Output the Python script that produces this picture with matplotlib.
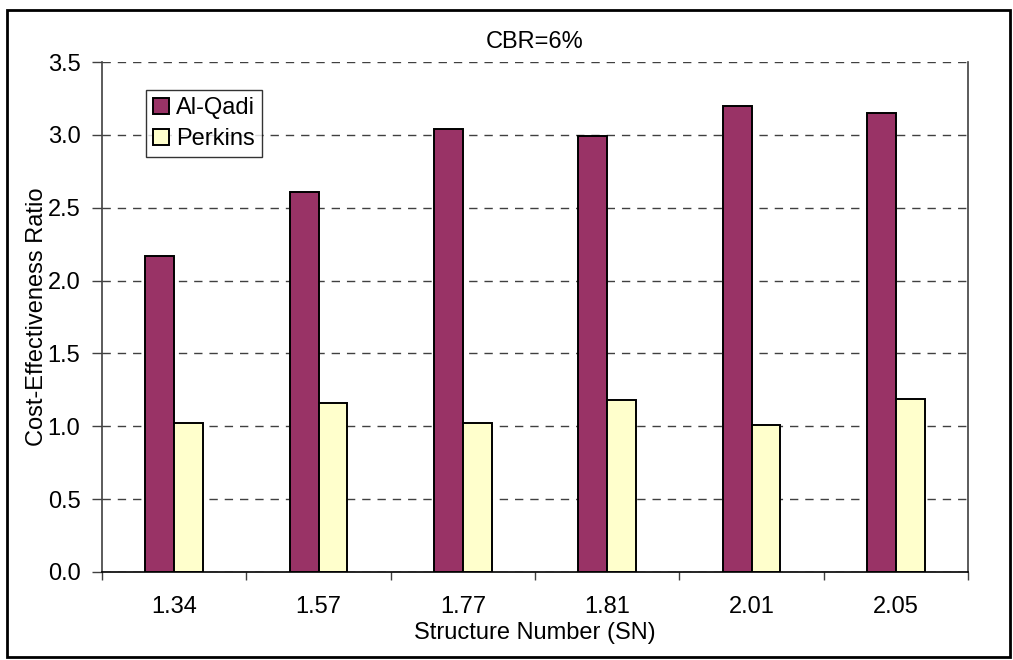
#!/usr/bin/env python

import numpy as np
import matplotlib
matplotlib.use("Agg")
import matplotlib.pyplot as plt
from matplotlib.patches import Rectangle

sn_labels = ["1.34", "1.57", "1.77", "1.81", "2.01", "2.05"]
al_qadi = [2.17, 2.61, 3.04, 2.99, 3.20, 3.15]
perkins = [1.02, 1.16, 1.02, 1.18, 1.01, 1.19]

plt.rcParams['font.family'] = ['Liberation Sans', 'DejaVu Sans']
fs = 17

fig = plt.figure(figsize=(10.13, 6.60), dpi=100)
W, H = 1013, 660
# plot area in pixel coords: left 102, right 968, top 62, bottom 572
ax = fig.add_axes([102 / W, 1 - 572 / H, (968 - 102) / W, (572 - 62) / H])

x = np.arange(len(sn_labels))
bw = 0.2
ax.bar(x - bw / 2, al_qadi, bw, color='#993366', edgecolor='black', linewidth=1.4,
       label='Al-Qadi', zorder=3)
ax.bar(x + bw / 2, perkins, bw, color='#FFFFCC', edgecolor='black', linewidth=1.4,
       label='Perkins', zorder=3)

ax.set_xlim(-0.5, len(sn_labels) - 0.5)
ax.set_ylim(0, 3.5)
yt = np.arange(0, 3.51, 0.5)
ax.set_yticks(yt)
ax.set_yticklabels(["%.1f" % v for v in yt], fontsize=fs)

# category labels in the middle, tick marks on the boundaries
ax.set_xticks(x)
ax.set_xticklabels(sn_labels, fontsize=fs)
ax.tick_params(axis='x', which='major', length=0, pad=17)
ax.set_xticks(np.arange(-0.5, len(sn_labels)), minor=True)
ax.tick_params(axis='x', which='minor', length=6, width=1, direction='out', color='#404040')
ax.tick_params(axis='y', length=7, width=1, direction='out', color='#404040', pad=8.5)

ax.yaxis.grid(True, linestyle=(0, (6, 5)), color='#404040', linewidth=1, zorder=0)
ax.set_axisbelow(True)

ax.spines['top'].set_visible(False)
ax.spines['left'].set_color('#404040')
ax.spines['right'].set_color('#404040')
ax.spines['bottom'].set_color('black')
for s in ['left', 'right', 'bottom']:
    ax.spines[s].set_linewidth(1.2)

ax.set_title('CBR=6%', fontsize=fs, pad=10)
ax.set_xlabel('Structure Number (SN)', fontsize=fs, labelpad=3)
ax.set_ylabel('Cost-Effectiveness Ratio', fontsize=fs, labelpad=0)

leg = ax.legend(loc='upper left', bbox_to_anchor=(0.0508, 0.945), fontsize=fs, frameon=True,
                fancybox=False, edgecolor='black', handlelength=0.68, handleheight=0.68,
                handletextpad=0.3, borderpad=0.3, labelspacing=0.38, borderaxespad=0)
leg.get_frame().set_linewidth(1)

# outer chart border
fig.patches.append(Rectangle((7 / W, 1 - 657 / H), (1010 - 7) / W, (657 - 10) / H,
                             transform=fig.transFigure, fill=False, edgecolor='black',
                             linewidth=2))

fig.savefig('out.png', dpi=100)
